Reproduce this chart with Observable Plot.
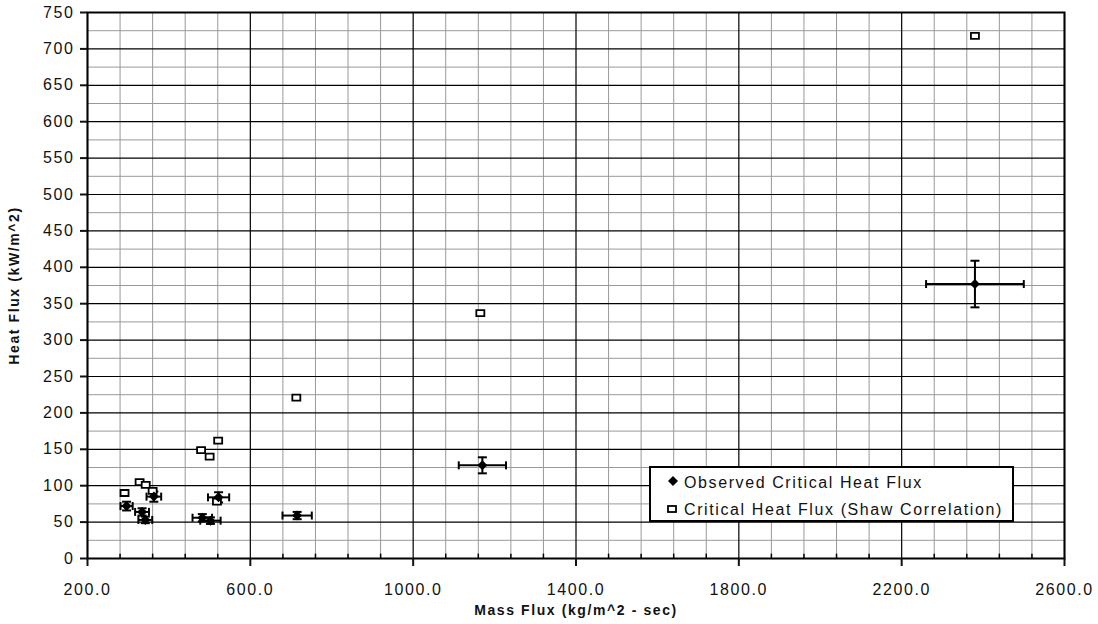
<!DOCTYPE html>
<html>
<head>
<meta charset="utf-8">
<script src="https://cdn.jsdelivr.net/npm/d3@7"></script>
<script src="https://cdn.jsdelivr.net/npm/@observablehq/plot@0.6"></script>
<style>
  html, body { margin: 0; padding: 0; background: #fff; }
  #chart svg text { letter-spacing: 1.6px; }
  #chart svg text.title { letter-spacing: 1.9px; }
</style>
</head>
<body>
<div id="chart"></div>
<script>
// Observed critical heat flux (filled diamonds) with error bars
const obsX  = [296, 334, 342, 363, 482, 502, 522, 715, 1170, 2380];
const obsY  = [72, 64, 53, 85, 56, 52, 84, 59, 128, 377];
const obsXErr = [15, 17, 17, 18, 24, 25, 26, 36, 58, 120];
const obsYErr = [6, 5, 4.5, 7, 5, 4.5, 7, 5, 11, 32];

// Critical heat flux from Shaw correlation (open squares)
const shawX = [291, 328, 343, 360, 479, 500, 521, 518, 713, 1165, 2380];
const shawY = [90, 105, 101, 93, 149, 140, 162, 78, 221, 337, 718];

// Axis ticks
const xMajor = [200, 600, 1000, 1400, 1800, 2200, 2600];
const xMinor = [280, 360, 440, 520, 680, 760, 840, 920, 1080, 1160, 1240, 1320,
                1480, 1560, 1640, 1720, 1880, 1960, 2040, 2120, 2280, 2360, 2440, 2520];
const yMajor = [0, 50, 100, 150, 200, 250, 300, 350, 400, 450, 500, 550, 600, 650, 700, 750];
const yMinor = [25, 75, 125, 175, 225, 275, 325, 375, 425, 475, 525, 575, 625, 675, 725];

const legendLabels = ["Observed Critical Heat Flux", "Critical Heat Flux (Shaw Correlation)"];
const xTitle = "Mass Flux (kg/m^2 - sec)";
const yTitle = "Heat Flux (kW/m^2)";

const obs = obsX.map((x, i) => ({x, y: obsY[i], ex: obsXErr[i], ey: obsYErr[i]}));
const shaw = shawX.map((x, i) => ({x, y: shawY[i]}));

const diamond = {draw(c) { c.moveTo(0, -5); c.lineTo(5, 0); c.lineTo(0, 5); c.lineTo(-5, 0); c.closePath(); }};
const square = {draw(c) { c.rect(-4, -3, 8, 6); }};
const hcap = {draw(c) { c.moveTo(-4.5, 0); c.lineTo(4.5, 0); }};
const vcap = {draw(c) { c.moveTo(0, -4); c.lineTo(0, 4); }};

const font = "'Liberation Sans', Arial, sans-serif";

const chart = Plot.plot({
  width: 1098,
  height: 624,
  marginLeft: 87,
  marginRight: 34,
  marginTop: 12,
  marginBottom: 66,
  style: {fontFamily: font, fontSize: "16px", color: "#111", background: "#fff"},
  x: {domain: [200, 2600]},
  y: {domain: [0, 750]},
  marks: [
    Plot.ruleY(yMinor, {stroke: "#999", strokeWidth: 1}),
    Plot.ruleX(xMinor, {stroke: "#999", strokeWidth: 1}),
    Plot.ruleY(yMajor, {stroke: "#000", strokeWidth: 1.2}),
    Plot.ruleX(xMajor, {stroke: "#000", strokeWidth: 1.2}),
    Plot.ruleX(xMinor, {y1: 0, y2: 6, stroke: "#000", strokeWidth: 1.5}),
    Plot.frame({stroke: "#000", strokeWidth: 2}),
    Plot.axisY({ticks: yMajor, tickSize: 7, tickPadding: 6, tickFormat: d => String(d), label: null, strokeWidth: 2, fontSize: 16}),
    Plot.axisX({ticks: xMajor, tickSize: 8, tickPadding: 17, tickFormat: d => d.toFixed(1), label: null, strokeWidth: 2, fontSize: 16}),
    Plot.text([xTitle], {frameAnchor: "bottom", dy: 56, textAnchor: "middle", fontWeight: "bold", fontSize: 14, fill: "#111", className: "title"}),
    Plot.text([yTitle], {frameAnchor: "left", dx: -73, textAnchor: "middle", rotate: -90, fontWeight: "bold", fontSize: 14, fill: "#111", className: "title"}),
    // error bars
    Plot.ruleY(obs, {y: "y", x1: d => d.x - d.ex, x2: d => d.x + d.ex, stroke: "#000", strokeWidth: 2}),
    Plot.ruleX(obs, {x: "x", y1: d => d.y - d.ey, y2: d => d.y + d.ey, stroke: "#000", strokeWidth: 2}),
    Plot.dot(obs, {x: d => d.x - d.ex, y: "y", symbol: vcap, r: 4, stroke: "#000", strokeWidth: 2, fill: "none"}),
    Plot.dot(obs, {x: d => d.x + d.ex, y: "y", symbol: vcap, r: 4, stroke: "#000", strokeWidth: 2, fill: "none"}),
    Plot.dot(obs, {x: "x", y: d => d.y - d.ey, symbol: hcap, r: 4, stroke: "#000", strokeWidth: 2, fill: "none"}),
    Plot.dot(obs, {x: "x", y: d => d.y + d.ey, symbol: hcap, r: 4, stroke: "#000", strokeWidth: 2, fill: "none"}),
    // points
    Plot.dot(shaw, {x: "x", y: "y", symbol: square, r: 4, stroke: "#000", strokeWidth: 1.8, fill: "#fff"}),
    Plot.dot(obs, {x: "x", y: "y", symbol: diamond, r: 4, fill: "#000", stroke: "none"})
  ]
});

document.getElementById("chart").appendChild(chart);

// Legend box inside the plot area
const svg = d3.select(chart);
const lg = svg.append("g").attr("font-family", font).attr("font-size", 16).attr("text-anchor", "start");
lg.append("rect").attr("x", 650).attr("y", 467).attr("width", 363).attr("height", 54)
  .attr("fill", "#fff").attr("stroke", "#000").attr("stroke-width", 2);
lg.append("path").attr("d", "M673,476L678,481L673,486L668,481Z").attr("fill", "#000");
lg.append("rect").attr("x", 668).attr("y", 506).attr("width", 8).attr("height", 6)
  .attr("fill", "#fff").attr("stroke", "#000").attr("stroke-width", 1.8);
lg.append("text").attr("x", 684).attr("y", 488).attr("fill", "#111").text(legendLabels[0]);
lg.append("text").attr("x", 684).attr("y", 515).attr("fill", "#111").text(legendLabels[1]);
</script>
</body>
</html>
